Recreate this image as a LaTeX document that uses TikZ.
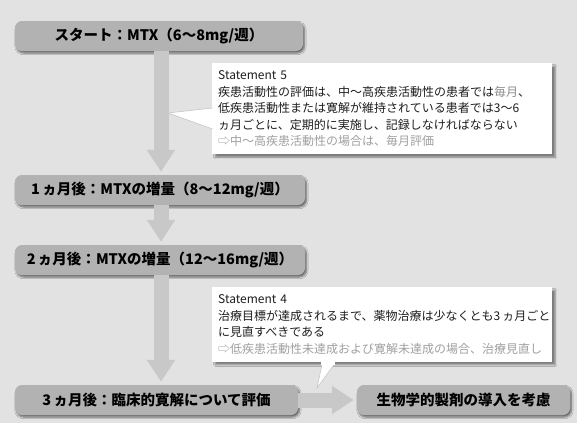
\documentclass[tikz,border=0pt]{standalone}
\usepackage{fontspec}
\newfontfamily\jp{Noto Sans CJK JP}
\usetikzlibrary{arrows.meta,shadows,shadows.blur}
\definecolor{bg}{HTML}{E2E2E2}
\definecolor{boxgray}{HTML}{B2B2B2}
\definecolor{arrowgray}{HTML}{C8C8C8}
\definecolor{hl}{HTML}{8C8C8C}
\definecolor{lg}{HTML}{A0A0A0}
\definecolor{tx}{HTML}{1E1E1E}
\tikzset{
  stepbox/.style={fill=boxgray, rounded corners=7pt, minimum height=30pt,
    inner sep=0pt, text=black, font=\jp\bfseries\fontsize{14.5}{18}\selectfont,
    blur shadow={shadow xshift=1.5pt, shadow yshift=-2pt, shadow blur steps=6, shadow opacity=55}},
  note/.style={fill=white, anchor=north west, align=left, text width=328pt,
    inner xsep=6pt, inner ysep=7.5pt, text=tx,
    font=\jp\fontsize{12}{16.5}\selectfont,
    blur shadow={shadow xshift=3pt, shadow yshift=-3pt, shadow blur steps=6, shadow opacity=45}},
  fat/.style={draw=arrowgray, line width=15pt, shorten >=3pt,
    -{Triangle[width=27pt,length=22pt]}},
  wedge/.style={fill=white, draw=gray!45, line width=0.6pt}
}
\begin{document}
\begin{tikzpicture}[x=1pt,y=-1pt]
\fill[bg] (0,0) rectangle (577,423);
\useasboundingbox (0,0) rectangle (577,423);

\node[stepbox, minimum width=288pt] (b1) at (159,36) {スタート：MTX（6〜8mg/週）};
\node[stepbox, minimum width=290pt] (b2) at (160,190) {1\,ヵ月後：MTXの増量（8〜12mg/週）};
\node[stepbox, minimum width=290pt] (b3) at (160,260) {2\,ヵ月後：MTXの増量（12〜16mg/週）};
\node[stepbox, minimum width=283pt] (b4) at (156.5,400) {3\,ヵ月後：臨床的寛解について評価};
\node[stepbox, minimum width=213pt] (b5) at (463.5,400) {生物学的製剤の導入を考慮};

\coordinate (ax) at (161,0);
\draw[fat] (b1.south -| ax) -- (b2.north -| ax);
\draw[fat] (b2.south -| ax) -- (b3.north -| ax);
\draw[fat] (b3.south -| ax) -- (b4.north -| ax);
\draw[fat] (b4.east) -- (b5.west);

\node[note] (c5) at (212,63) {Statement 5\\
疾患活動性の評価は、中〜高疾患活動性の患者では\textcolor{hl}{毎月}、\\
低疾患活動性または寛解が維持されている患者では3〜6\\
ヵ月ごとに、定期的に実施し、記録しなければならない\\
\textcolor{lg}{⇨中〜高疾患活動性の場合は、毎月評価}};
\filldraw[wedge] (212.6,108) -- (168,113) -- (212.6,129);
\fill[white] (213,107) rectangle (216,130);

\node[note] (c4) at (212,287) {Statement 4\\
治療目標が達成されるまで、薬物治療は少なくとも3\,ヵ月ごと\\
に見直すべきである\\
\textcolor{lg}{⇨低疾患活動性未達成および寛解未達成の場合、治療見直し}};
\filldraw[wedge] (322,364.6) -- (317,388) -- (334,364.6);
\fill[white] (321,362) rectangle (335,365);
\end{tikzpicture}
\end{document}
